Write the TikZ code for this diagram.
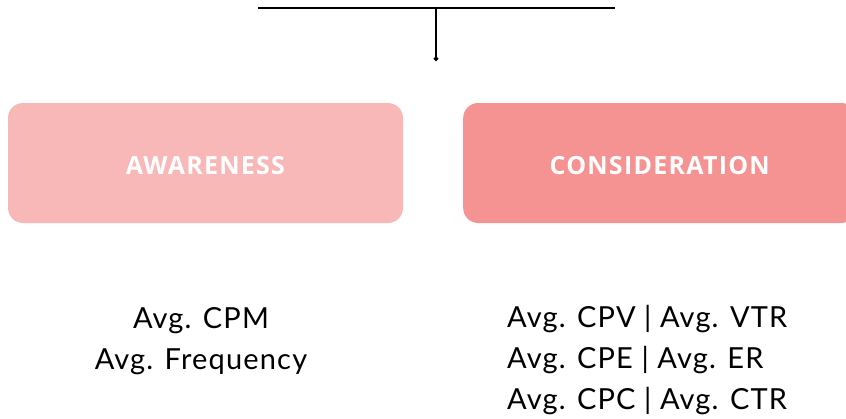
\documentclass[tikz,border=0pt]{standalone}
\usepackage{fontspec}
\usetikzlibrary{arrows.meta}

\newfontfamily\metricfont{Lato}[LetterSpace=4]
\newfontfamily\stagefont{Open Sans}[LetterSpace=5]
\definecolor{awarepink}{HTML}{F8B8B8}
\definecolor{considerpink}{HTML}{F59393}

\begin{document}
\begin{tikzpicture}[
x=1pt, y=-1pt,
stage/.style={
    rounded corners=15pt,
    minimum width=395pt,
    minimum height=120pt,
    inner sep=0pt,
    text height=23pt,
    text depth=0pt,
    text=white,
    font={\stagefont\bfseries\fontsize{25}{28}\selectfont}},
metrics/.style={
    inner sep=0pt,
    font={\metricfont\fontsize{29}{41}\selectfont}},
bar/.style={black, line width=1.7pt},
]
\useasboundingbox (0,0) rectangle (846,418);

% funnel stages
\node[stage, fill=awarepink] (awareness) at (205.5,163) {AWARENESS};
\node[stage, fill=considerpink, minimum width=393pt, anchor=west] (consideration) at (463,163) {CONSIDERATION};

% bracket on top
\coordinate (barleft) at (258,8);
\coordinate (barright) at (615,8);
\coordinate (barmid) at (436,8);
\coordinate (dropend) at (436,61);
\draw[bar] (barleft) -- (barright);
\draw[bar, -{Circle[length=4.5pt]}] (barmid) -- (dropend);

% metrics under each stage
\node[metrics, align=center, anchor=north] (awarenessmetrics) at (201,307) {Avg. CPM\\Avg. Frequency};
\node[metrics, align=left, anchor=north west] (considerationmetrics) at (507,305) {Avg. CPV | Avg. VTR\\Avg. CPE | Avg. ER\\Avg. CPC | Avg. CTR};
\end{tikzpicture}
\end{document}
